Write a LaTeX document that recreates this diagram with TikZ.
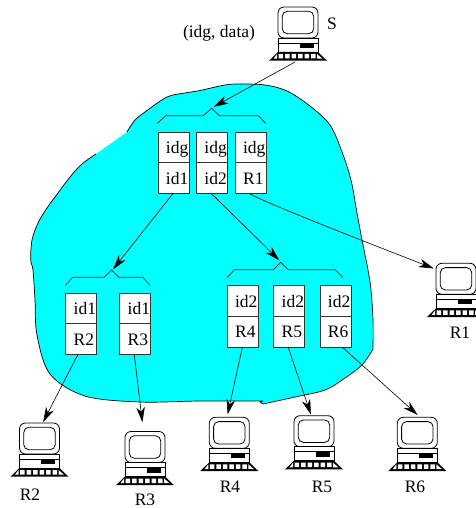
\documentclass[tikz,border=0pt]{standalone}
\usepackage{fontspec}
\setmainfont{Liberation Serif}
\usetikzlibrary{arrows.meta}
\definecolor{cloud}{RGB}{0,255,255}
\newcommand{\celltxt}[1]{\makebox[31pt][l]{\hspace*{8pt}#1}}
\tikzset{
 x=1pt,y=-1pt,
 cell/.style={draw=black!80,fill=white,line width=.8pt,minimum width=31pt,minimum height=30.7pt,inner sep=0pt,text height=12pt,text depth=0pt,font=\fontsize{17.5}{20}\selectfont,anchor=north west},
 lab/.style={inner sep=0pt,font=\fontsize{17.5}{20}\selectfont},
 conn/.style={draw=black,line width=.6pt,-{Stealth[length=15pt,width=8.5pt,inset=4.5pt]},shorten >=-0.5pt},
 brace/.style={draw=black!85,line width=.7pt},
 pics/comp/.style={code={
  \draw[line width=.8pt,rounded corners=6pt,fill=white] (-20,0) rectangle (20,31);
  \draw[line width=.8pt,rounded corners=5pt,fill=white] (-15.7,4.3) rectangle (15.7,26.7);
  \draw[line width=.8pt,fill=white] (-20,31) rectangle (20,45);
  \draw[line width=.7pt] (-20,36) -- (20,36);
  \fill (1.7,36) rectangle (15.7,41);
  \fill (-20,45) -- (20,45) -- (29,53.7) -- (-29,53.7) -- cycle;
  \fill[white] (-19.5,47) rectangle (-15,51.5) (-13,47) rectangle (-8.5,51.5) (-6.5,47) rectangle (-2,51.5) (0,47) rectangle (4.5,51.5) (6.5,47) rectangle (11,51.5) (13,47) rectangle (17.5,51.5);
  \fill[white] (-24.5,51.7) -- (-21,47) -- (-21,51.7) -- cycle (24.5,51.7) -- (19,47) -- (19,51.7) -- cycle;
 }}
}
\newcommand{\cloudpath}{plot[smooth,tension=.55] coordinates {(127,132) (135,120) (145,112) (167,97) (185,93) (200,90.5) (225,85) (240,84) (265,85) (287,91) (310,106) (330,125) (342,152) (351,180) (357,213) (362,240) (368,270) (371,290) (373,320) (373,349)}
 -- plot[smooth,tension=.55] coordinates {(373,349) (362,365) (345,378) (325,390) (295,397) (263,404)}
 -- (260,402) -- (263,401)
 -- plot[smooth,tension=.55] coordinates {(263,401) (200,401) (140,402) (85,396) (50,374) (37,335) (35,300) (33,270) (30.7,260) (32,240) (38,223) (47,208) (58,193) (70,177) (82,164) (96,154)}}
\begin{document}
\begin{tikzpicture}
\useasboundingbox (0,0) rectangle (475,508);
% cloud
\fill[cloud] \cloudpath -- cycle;
\draw[line width=.7pt,line join=round] \cloudpath;
% computers
\pic at (298,7) {comp};
\pic at (456,263.3) {comp};
\pic at (39.5,423) {comp};
\pic at (145,431.5) {comp};
\pic at (229.3,417.3) {comp};
\pic at (314,415.7) {comp};
\pic at (417.3,417.3) {comp};
\coordinate (cS) at (295,62);
\coordinate (cR1) at (433.3,268.3);
\coordinate (cR2) at (43.3,421.7);
\coordinate (cR3) at (142.3,421.7);
\coordinate (cR4) at (227.7,414);
\coordinate (cR5) at (310.7,414);
\coordinate (cR6) at (417.3,414.7);
% cells
\node[cell] (a1) at (157.5,131.7) {\celltxt{idg}};
\node[cell] (a2) at (157.5,162.4) {\celltxt{id1}};
\node[cell] (b1) at (196,131.7) {\celltxt{idg}};
\node[cell] (b2) at (196,162.4) {\celltxt{id2}};
\node[cell] (c1) at (234.7,131.7) {\celltxt{idg}};
\node[cell] (c2) at (234.7,162.4) {\celltxt{R1}};
\node[cell] (d1) at (65.3,292.7) {\celltxt{id1}};
\node[cell] (d2) at (65.3,323.4) {\celltxt{R2}};
\node[cell] (e1) at (119.3,292.7) {\celltxt{id1}};
\node[cell] (e2) at (119.3,323.4) {\celltxt{R3}};
\node[cell] (f1) at (226.7,285.3) {\celltxt{id2}};
\node[cell] (f2) at (226.7,316) {\celltxt{R4}};
\node[cell] (g1) at (273.3,285.3) {\celltxt{id2}};
\node[cell] (g2) at (273.3,316) {\celltxt{R5}};
\node[cell] (h1) at (319.5,285.3) {\celltxt{id2}};
\node[cell] (h2) at (319.5,316) {\celltxt{R6}};
% braces
\coordinate (bt) at (214,106.7);
\coordinate (bl) at (113.3,269);
\coordinate (br) at (279,260);
\draw[brace] (157.3,123.3) -- (165.7,115.7) -- (203.3,115.7) -- (211.7,108.3) -- (219.3,115.7) -- (258.3,115.7) -- (265.7,123.3);
\draw[brace] (65.3,285.3) -- (72.7,277.3) -- (104,277.3) -- (111.7,270) -- (119,277.3) -- (142.7,277.3) -- (150,285.3);
\draw[brace] (227.3,277.3) -- (234.7,269.7) -- (273.3,269.7) -- (280.7,262.3) -- (288.3,269.7) -- (335,269.7) -- (342.7,277.3);
% connectors
\draw[conn] (cS) -- (bt);
\draw[conn] (a2.south -| 172.7,0) -- (bl);
\draw[conn] (b2.south -| 211.7,0) -- (br);
\draw[conn] (c2.south -| 250,0) .. controls (264,202) and (345,234) .. (cR1);
\draw[conn] (d2.south -| 77.7,0) -- (cR2);
\draw[conn] (e2.south -| 134.3,0) -- (cR3);
\draw[conn] (f2.south -| 242.3,0) -- (cR4);
\draw[conn] (g2.south -| 288.3,0) -- (cR5);
\draw[conn] (h2.south -| 342.7,0) -- (cR6);
% labels
\node[lab] (tS) at (332,24) {S};
\node[lab] (tD) at (219,33) {(idg, data)};
\node[lab] (t1) at (460,333) {R1};
\node[lab] (t2) at (30,495) {R2};
\node[lab] (t3) at (145,500) {R3};
\node[lab] (t4) at (230,487) {R4};
\node[lab] (t5) at (322,487) {R5};
\node[lab] (t6) at (415,487) {R6};
\end{tikzpicture}
\end{document}
